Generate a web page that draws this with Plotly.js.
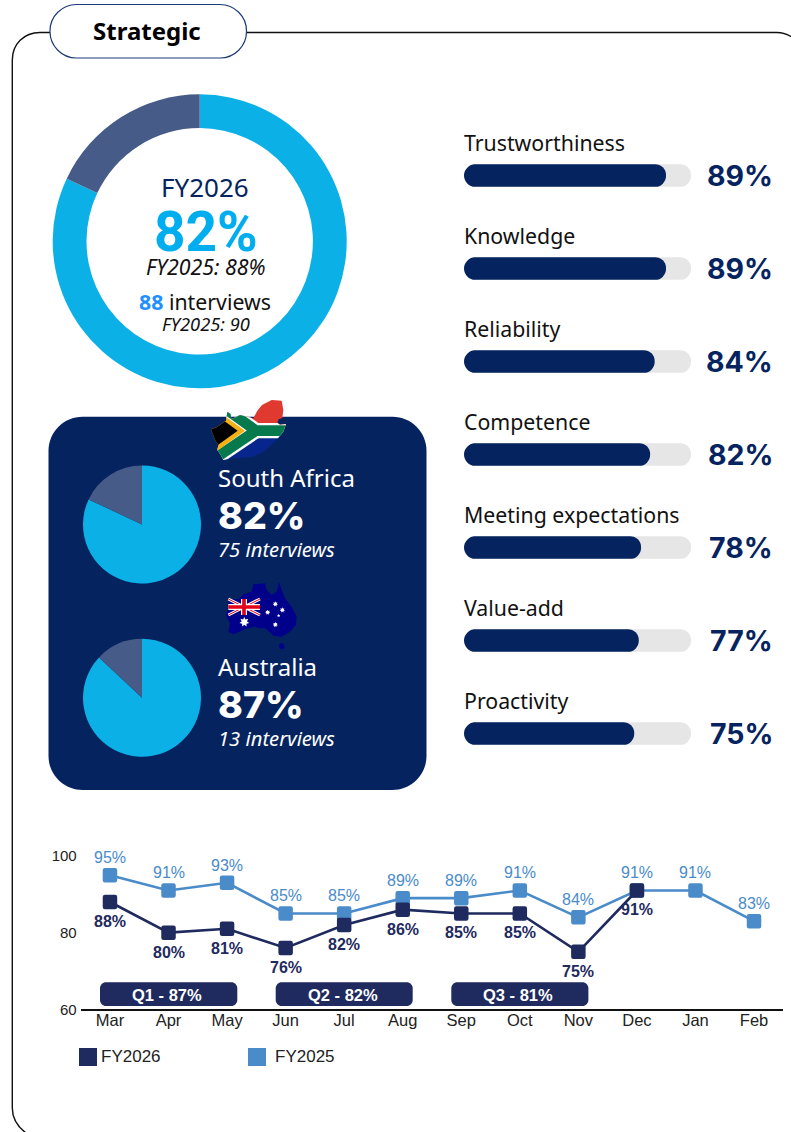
<!DOCTYPE html>
<html>
<head>
<meta charset="utf-8">
<script src="https://cdn.plot.ly/plotly-3.0.1.min.js"></script>
<style>
  html, body { margin: 0; padding: 0; background: #fff; overflow: hidden; }
  #chart { width: 791px; height: 1132px; }
  /* soften the square trend markers */
  .scatterlayer path.point { stroke-linejoin: round; }
</style>
</head>
<body>
<div id="chart"></div>
<script>
// Headline score
const overallScore = 82;
const overallPrior = 88;
const interviews = 88;
const interviewsPrior = 90;

// Regional scores
const regions = ["South Africa", "Australia"];
const regionScores = [82, 87];
const regionInterviews = [75, 13];

// Attribute scores
const attributes = ["Trustworthiness", "Knowledge", "Reliability", "Competence",
                    "Meeting expectations", "Value-add", "Proactivity"];
const attributeScores = [89, 89, 84, 82, 78, 77, 75];

// Monthly trend
const months = ["Mar", "Apr", "May", "Jun", "Jul", "Aug", "Sep", "Oct", "Nov", "Dec", "Jan", "Feb"];
const fy2026 = [88, 80, 81, 76, 82, 86, 85, 85, 75, 91, null, null];
const fy2025 = [95, 91, 93, 85, 85, 89, 89, 91, 84, 91, 91, 83];
const quarters = ["Q1 - 87%", "Q2 - 82%", "Q3 - 81%"];

// Page size and palette
const W = 791, H = 1132;
const NAVY = "#05245F", CYAN = "#0BB0E7", SLATE = "#465B87", TRACK = "#E6E6E6";
const DARK = "#1F2A5E", LIGHT = "#4A8BC9", BRIGHT = "#00AEEF";
const TEXT = "Noto Sans", HEADLINE = "Roboto", NUM = "Inter", ARIAL = "Liberation Sans";

const fx = x => x / W;
const fy = y => 1 - y / H;

// Attribute rows share a band of the page
const ROW_TOP = 129, ROW_STEP = 93, BAR_H = 22.7, BAR_LEFT = 464, BAR_RIGHT = 691;

// Path in paper fractions from page-pixel commands
function paperPath(cmds) {
  return cmds.map(c => c[0] + " " + c.slice(1).map((v, i) =>
    (i % 2 === 0 ? fx(v) : fy(v)).toFixed(5)).join(" ")).join(" ");
}
function roundRect(x0, y0, x1, y1, r) {
  const k = r * 0.45;
  return paperPath([
    ["M", x0 + r, y0], ["L", x1 - r, y0], ["C", x1 - k, y0, x1, y0 + k, x1, y0 + r],
    ["L", x1, y1 - r], ["C", x1, y1 - k, x1 - k, y1, x1 - r, y1],
    ["L", x0 + r, y1], ["C", x0 + k, y1, x0, y1 - k, x0, y1 - r],
    ["L", x0, y0 + r], ["C", x0, y0 + k, x0 + k, y0, x0 + r, y0], ["Z"]
  ]);
}
const pathShape = (path, fill, line, width, layer) => ({
  type: "path", xref: "paper", yref: "paper", path, layer: layer || "below",
  fillcolor: fill, line: { color: line || "rgba(0,0,0,0)", width: width || 0 }
});

// Page furniture: outer frame, heading pill, regional card
const frameLeft = paperPath([
  ["M", 50, 32.5], ["L", 40, 32.5], ["C", 24, 32.5, 12.3, 44, 12.3, 60],
  ["L", 12.3, 1108], ["C", 12.3, 1118, 18, 1127, 26, 1133]
]);
const frameTop = paperPath([
  ["M", 246, 32.5], ["L", 777, 32.5], ["C", 782, 32.5, 787, 34, 792, 37]
]);
const shapes = [
  pathShape(frameLeft, "rgba(0,0,0,0)", "#111", 1.4),
  pathShape(frameTop, "rgba(0,0,0,0)", "#111", 1.4),
  pathShape(roundRect(50, 4.5, 246.5, 58, 26.5), "#fff", "#1B3A78", 1.2),
  pathShape(roundRect(48.5, 416.8, 426.5, 790, 34), NAVY)
];

// White caps give the bars a rounded start as well as a rounded end
attributes.forEach((a, i) => {
  const cy = ROW_TOP + ROW_STEP * (i + 0.5), t = cy - BAR_H / 2, b = cy + BAR_H / 2;
  const r = BAR_H / 2, x = BAR_LEFT - 0.5;
  shapes.push(pathShape(paperPath([
    ["M", x, t - 0.5], ["L", x + r + 0.5, t - 0.5],
    ["C", x + 5.5, t, x + 0.5, t + 5.5, x + 0.5, cy],
    ["C", x + 0.5, b - 5.5, x + 5.5, b, x + r + 0.5, b + 0.5],
    ["L", x, b + 0.5], ["Z"]
  ]), "#fff", null, 0, "above"));
});

// Quarter pills beneath the trend
[[100, 237.3], [275.7, 412.7], [451.3, 588.4]].forEach(p =>
  shapes.push(pathShape(roundRect(p[0], 982.3, p[1], 1006, 6), DARK)));

// Hand-made legend swatches
shapes.push(pathShape(paperPath([["M", 79, 1048], ["L", 97, 1048], ["L", 97, 1066], ["L", 79, 1066], ["Z"]]), DARK));
shapes.push(pathShape(paperPath([["M", 248, 1048], ["L", 266, 1048], ["L", 266, 1066], ["L", 248, 1066], ["Z"]]), LIGHT));

// Text helper: page-pixel placement, paper references
function note(text, x, y, size, color, opts) {
  const o = opts || {};
  return {
    text, x: fx(x), y: fy(y), xref: "paper", yref: "paper", showarrow: false,
    xanchor: o.anchor || "center", yanchor: "middle",
    font: { family: o.family || TEXT, size, color, weight: o.weight || 400, style: o.style || "normal" }
  };
}

const annotations = [
  note("Strategic", 146.5, 31, 24, "#000", { weight: 700 }),
  note("FY2026", 205, 187, 26, NAVY),
  note(overallScore + "%", 205.5, 231.5, 55, BRIGHT, { family: HEADLINE, weight: 700 }),
  note("FY2025: " + overallPrior + "%", 205, 266.5, 21.3, "#111", { style: "italic" }),
  note('<span style="color:#1E90FF;font-weight:700">' + interviews + '</span> interviews', 205, 301, 21.3, "#111"),
  note("FY2025: " + interviewsPrior, 205.5, 323, 18.3, "#111", { style: "italic" })
];

// Regional text blocks
const regionRows = [[477, 515, 549], [666, 704, 738]];
regions.forEach((r, i) => {
  const rows = regionRows[i];
  annotations.push(note(r, 216, rows[0], 24, "#fff", { anchor: "left" }));
  annotations.push(note(regionScores[i] + "%", 216, rows[1], 37.5, "#fff", { anchor: "left", family: NUM, weight: 800 }));
  annotations.push(note(regionInterviews[i] + " interviews", 216, rows[2], 20.2, "#fff", { anchor: "left", style: "italic" }));
});

// Attribute names above each bar and scores to the right
attributes.forEach((a, i) => {
  annotations.push({
    text: a, x: 0, y: a, xref: "x2", yref: "y2", showarrow: false, xanchor: "left", yanchor: "middle",
    xshift: -2, yshift: 33, font: { family: TEXT, size: 21.3, color: "#111" }
  });
  annotations.push({
    text: attributeScores[i] + "%", x: fx(772), y: a, xref: "paper", yref: "y2", showarrow: false,
    xanchor: "right", yanchor: "middle", xshift: 3, font: { family: NUM, size: 28.5, color: NAVY, weight: 700 }
  });
});

// Trend value labels: prior year above its marker, current year below
fy2025.forEach((v, i) => annotations.push({
  text: v + "%", x: months[i], y: v, xref: "x", yref: "y", showarrow: false, yshift: 17.5, yanchor: "middle",
  font: { family: ARIAL, size: 16, color: LIGHT }
}));
fy2026.forEach((v, i) => {
  if (v === null) return;
  annotations.push({
    text: v + "%", x: months[i], y: v, xref: "x", yref: "y", showarrow: false, yshift: -19.5, yanchor: "middle",
    font: { family: ARIAL, size: 16, color: DARK, weight: 700 }
  });
});

// Quarter pill captions and legend labels
[167.2, 342.5, 518].forEach((x, i) =>
  annotations.push(note(quarters[i], x, 994.5, 16.5, "#fff", { family: ARIAL, weight: 700 })));
annotations.push(note("FY2026", 98.5, 1056, 17, "#222", { family: ARIAL, anchor: "left" }));
annotations.push(note("FY2025", 273, 1056, 17, "#222", { family: ARIAL, anchor: "left" }));

// Map-shaped flags, drawn as small inline vector images
const starPoly = (cx, cy, r, n) => {
  const pts = [];
  for (let i = 0; i < n * 2; i++) {
    const a = -Math.PI / 2 + i * Math.PI / n, rr = i % 2 ? r * 0.55 : r;
    pts.push((cx + rr * Math.cos(a)).toFixed(1) + "," + (cy + rr * Math.sin(a)).toFixed(1));
  }
  return '<polygon fill="#fff" points="' + pts.join(" ") + '"/>';
};

const saOutline = "33,118 50,112 78,92 82,65 92,72 94,88 120,75 160,85 172,62 186,45 215,30 245,32 250,60 247,84 236,88 232,98 240,104 258,102 250,125 225,155 190,185 160,200 130,203 100,205 70,210 62,195 52,180 55,165 45,150";
const saFlag =
  '<svg xmlns="http://www.w3.org/2000/svg" width="330" height="240" viewBox="0 0 330 240">' +
  '<defs><clipPath id="c"><polygon points="' + saOutline + '"/></clipPath></defs>' +
  '<g clip-path="url(#c)">' +
  '<rect x="0" y="0" width="330" height="122" fill="#E0392F"/>' +
  '<rect x="0" y="122" width="330" height="118" fill="#07268C"/>' +
  '<polyline points="68,50 168,122 340,122" fill="none" stroke="#fff" stroke-width="46"/>' +
  '<polyline points="45,205 168,122" fill="none" stroke="#fff" stroke-width="46"/>' +
  '<polyline points="68,50 168,122 340,122" fill="none" stroke="#077A4D" stroke-width="32"/>' +
  '<polyline points="45,205 168,122" fill="none" stroke="#077A4D" stroke-width="32"/>' +
  '<polygon points="20,39 135,122 20,205" fill="#F5B013"/>' +
  '<polygon points="0,40 113,122 0,204" fill="#000"/>' +
  '</g></svg>';

const auOutline = "55,95 60,85 90,70 100,58 125,50 130,28 165,25 170,45 185,60 200,50 207,20 215,45 225,70 245,95 260,125 258,150 240,170 215,185 190,182 178,170 165,160 150,160 130,155 100,165 70,178 55,170 60,145 48,120";
const auFlag =
  '<svg xmlns="http://www.w3.org/2000/svg" width="300" height="240" viewBox="0 0 300 240">' +
  '<polygon points="' + auOutline + '" fill="#00008B"/>' +
  '<ellipse cx="215" cy="214" rx="8" ry="9" fill="#00008B"/>' +
  '<rect x="55" y="72" width="95" height="48" fill="#00008B"/>' +
  '<path d="M55,72 L150,120 M150,72 L55,120" stroke="#fff" stroke-width="9"/>' +
  '<path d="M55,72 L150,120 M150,72 L55,120" stroke="#E3001B" stroke-width="3"/>' +
  '<path d="M102,72 V120 M55,96 H150" stroke="#fff" stroke-width="18"/>' +
  '<path d="M102,72 V120 M55,96 H150" stroke="#E3001B" stroke-width="11"/>' +
  starPoly(103, 141, 15, 7) + starPoly(196, 87, 8, 7) + starPoly(173, 112, 8, 7) +
  starPoly(217, 105, 8, 7) + starPoly(206, 122, 5, 5) + starPoly(196, 149, 8, 7) +
  '</svg>';

const images = [[saFlag, 200, 390, 110, 80], [auFlag, 210, 575, 100, 80]].map(f => ({
  source: "data:image/svg+xml;charset=utf-8," + encodeURIComponent(f[0]),
  xref: "paper", yref: "paper", x: fx(f[1]), y: fy(f[2]), sizex: f[3] / W, sizey: f[4] / H,
  xanchor: "left", yanchor: "top", sizing: "stretch", layer: "above"
}));

// Circular charts take their boxes from centre and radius
function pieTrace(score, cx, cy, r, hole) {
  return {
    type: "pie", values: [score, 100 - score], labels: ["Score", "Remainder"], sort: false,
    direction: "clockwise", rotation: 0, hole, textinfo: "none", hoverinfo: "skip",
    marker: { colors: [CYAN, SLATE], line: { width: 0 } },
    domain: { x: [fx(cx - r), fx(cx + r)], y: [fy(cy + r), fy(cy - r)] },
    showlegend: false
  };
}

const data = [
  pieTrace(overallScore, 199.7, 241.3, 147, 0.77),
  pieTrace(regionScores[0], 142, 524.5, 59, 0),
  pieTrace(regionScores[1], 142, 697.8, 59, 0),
  // Attribute bars: a full-scale track with the score laid over it on a twin axis
  {
    type: "bar", orientation: "h", x: attributes.map(() => 100), y: attributes, xaxis: "x2", yaxis: "y2",
    width: 0.244, marker: { color: TRACK, cornerradius: 11 }, hoverinfo: "skip", showlegend: false
  },
  {
    type: "bar", orientation: "h", x: attributeScores, y: attributes, xaxis: "x2", yaxis: "y3",
    width: 0.244, marker: { color: NAVY, cornerradius: 11 }, hoverinfo: "skip", showlegend: false
  },
  // Monthly trend lines
  {
    type: "scatter", mode: "lines+markers", name: "FY2025", x: months, y: fy2025, cliponaxis: false,
    line: { color: LIGHT, width: 2.6 },
    marker: { symbol: "square", size: 10, color: LIGHT, line: { color: LIGHT, width: 4.5 } }
  },
  {
    type: "scatter", mode: "lines+markers", name: "FY2026", x: months, y: fy2026, cliponaxis: false,
    line: { color: DARK, width: 2.6 },
    marker: { symbol: "square", size: 10, color: DARK, line: { color: DARK, width: 4.5 } }
  }
];

const rowBand = () => ({
  domain: [fy(ROW_TOP + ROW_STEP * attributes.length), fy(ROW_TOP)], type: "category",
  categoryorder: "array", categoryarray: attributes, range: [attributes.length - 0.5, -0.5],
  visible: false, fixedrange: true
});

const layout = {
  width: W, height: H, margin: { l: 0, r: 0, t: 0, b: 0 }, autosize: false,
  paper_bgcolor: "#fff", plot_bgcolor: "rgba(0,0,0,0)", showlegend: false,
  barmode: "overlay",
  xaxis: {
    domain: [fx(80.7), fx(783.3)], type: "category", categoryorder: "array", categoryarray: months,
    range: [-0.5, 11.5], showgrid: false, zeroline: false, showline: true, linecolor: "#111", linewidth: 1.4,
    ticks: "", tickfont: { family: ARIAL, size: 16.5, color: "#222" }, anchor: "y", fixedrange: true,
    ticklabelstandoff: -5
  },
  yaxis: {
    domain: [fy(1009.3), fy(856)], range: [60, 100], tickvals: [60, 80, 100],
    showgrid: false, zeroline: false, showline: false, ticks: "",
    tickfont: { family: ARIAL, size: 15, color: "#222" }, anchor: "x", fixedrange: true,
    ticklabelstandoff: 3
  },
  xaxis2: { domain: [fx(BAR_LEFT), fx(BAR_RIGHT)], range: [0, 100], visible: false, anchor: "y2", fixedrange: true },
  yaxis2: Object.assign(rowBand(), { anchor: "x2" }),
  yaxis3: Object.assign(rowBand(), { anchor: "x2", overlaying: "y2" }),
  shapes, annotations, images
};

Plotly.newPlot("chart", data, layout, { displayModeBar: false, staticPlot: true });
</script>
</body>
</html>
